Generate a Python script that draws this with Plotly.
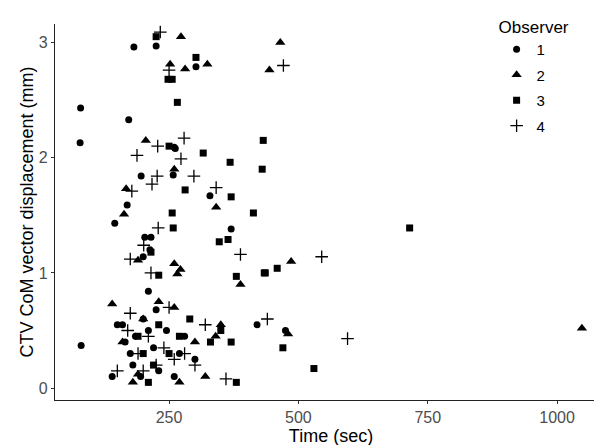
import plotly.graph_objects as go

# Observer 1 (circles)
obs1_t = [182, 225, 302, 79, 172, 78, 260, 262, 258, 196, 329, 169, 145, 370, 203, 215, 213, 200, 210,
          80, 150, 160, 165, 175, 180, 185, 195, 200, 210, 220, 225, 230, 245, 260, 270, 280, 300, 420, 475, 140]
obs1_y = [2.96, 2.97, 2.79, 2.43, 2.33, 2.13, 2.09, 2.08, 1.85, 1.84, 1.67, 1.59, 1.43, 1.38, 1.31, 1.31, 1.20, 1.14, 0.84,
          0.37, 0.55, 0.55, 0.40, 0.30, 0.20, 0.45, 0.10, 0.60, 0.50, 0.35, 0.68, 0.15, 0.50, 0.10, 0.30, 0.45, 0.25, 0.55, 0.50, 0.10]
# Observer 2 (triangles)
obs2_t = [273, 252, 281, 324, 465, 444, 205, 260, 167, 341, 163, 190, 260, 272, 266, 486, 388,
          140, 180, 190, 200, 230, 260, 270, 300, 320, 340, 350, 480, 1048, 160]
obs2_y = [3.05, 2.81, 2.77, 2.81, 3.00, 2.76, 2.15, 1.90, 1.73, 1.57, 1.51, 1.11, 1.08, 1.03, 0.99, 1.10, 0.90,
          0.73, 0.05, 0.12, 0.60, 0.75, 0.70, 0.05, 0.40, 0.10, 0.45, 0.55, 0.47, 0.52, 0.40]
# Observer 3 (squares)
obs3_t = [225, 302, 248, 256, 266, 250, 432, 316, 368, 430, 281, 370, 256, 413, 258, 364, 347, 215, 230, 380, 434, 715, 459, 436,
          190, 200, 220, 230, 250, 270, 290, 330, 350, 370, 380, 470, 530, 210]
obs3_y = [3.05, 2.87, 2.68, 2.68, 2.48, 2.10, 2.15, 2.04, 1.96, 1.90, 1.72, 1.66, 1.52, 1.52, 1.39, 1.29, 1.27, 1.18, 0.98, 0.97, 1.00, 1.39, 1.04, 1.00,
          0.45, 0.30, 0.20, 0.55, 0.30, 0.45, 0.60, 0.40, 0.50, 0.40, 0.05, 0.35, 0.17, 0.05]
# Observer 4 (plus)
obs4_t = [233, 250, 471, 228, 279, 188, 273, 227, 298, 217, 178, 341, 229, 201, 388, 175, 215, 545,
          150, 175, 190, 210, 225, 240, 250, 260, 280, 300, 320, 360, 440, 595, 170, 200]
obs4_y = [3.09, 2.76, 2.80, 2.10, 2.17, 2.02, 1.99, 1.84, 1.84, 1.77, 1.71, 1.74, 1.39, 1.24, 1.16, 1.12, 1.00, 1.14,
          0.15, 0.65, 0.30, 0.45, 0.20, 0.35, 0.70, 0.25, 0.30, 0.20, 0.55, 0.08, 0.60, 0.43, 0.50, 0.15]

observers = ["1", "2", "3", "4"]
series_t = [obs1_t, obs2_t, obs3_t, obs4_t]
series_y = [obs1_y, obs2_y, obs3_y, obs4_y]
symbols = ["circle", "triangle-up", "square", "cross-thin"]
sizes = [7, 9, 7, 9]

fig = go.Figure()
for name, ts, ys, sym, sz in zip(observers, series_t, series_y, symbols, sizes):
    marker = dict(symbol=sym, size=sz, color="black")
    if sym == "cross-thin":
        marker["line"] = dict(color="black", width=1.3)
    else:
        marker["line"] = dict(width=0)
    fig.add_trace(go.Scatter(x=ts, y=ys, mode="markers", name=name, legendgroup=name,
                             marker=marker))

fig.update_layout(
    width=602, height=445,
    margin=dict(l=47, r=3, t=13, b=53),
    paper_bgcolor="white", plot_bgcolor="white",
    font=dict(family="Liberation Sans, Arial, sans-serif", color="black"),
    showlegend=True,
    legend=dict(
        title=dict(text="Observer", font=dict(size=17, color="black")),
        x=0.80, xref="paper", y=1.035, xanchor="left", yanchor="top",
        font=dict(size=15, color="black"),
        bgcolor="rgba(0,0,0,0)", tracegroupgap=3,
    ),
)
fig.update_xaxes(
    range=[29.5, 1096.5], tickvals=[250, 500, 750, 1000],
    showline=True, linecolor="#222222", linewidth=1.2, mirror=False,
    ticks="outside", ticklen=3, tickcolor="#333333",
    showgrid=False, zeroline=False,
    tickfont=dict(size=16, color="#4D4D4D"),
    title=dict(text="Time (sec)", font=dict(size=18, color="black"), standoff=1),
)
fig.update_yaxes(
    range=[-0.103, 3.16], tickvals=[0, 1, 2, 3],
    showline=True, linecolor="#222222", linewidth=1.2,
    ticks="outside", ticklen=3, tickcolor="#333333",
    showgrid=False, zeroline=False,
    tickfont=dict(size=16, color="#4D4D4D"),
    title=dict(text="CTV CoM vector displacement (mm)", font=dict(size=18, color="black"), standoff=0),
)

fig.write_html("out.html")
